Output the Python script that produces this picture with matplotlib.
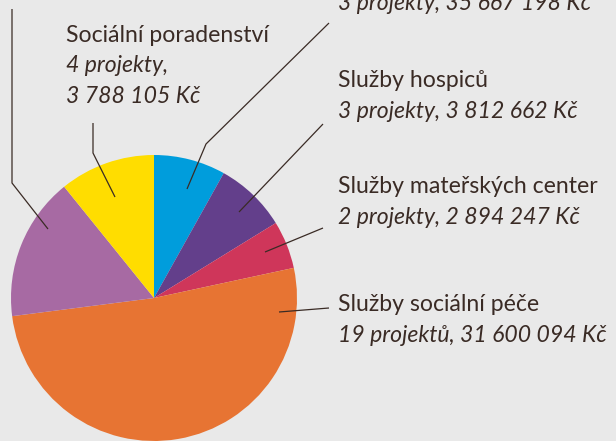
import matplotlib.pyplot as plt

# pocty projektu podle druhu sluzby (kolac je podle poctu projektu)
kategorie = ["?", "Služby hospiců", "Služby mateřských center",
             "Služby sociální péče", "?", "Sociální poradenství"]
projekty = [3, 3, 2, 19, 6, 4]
barvy = ["#009ddc", "#633f8b", "#cf365a", "#e77433", "#a76aa3", "#ffdd00"]

bg = "#e9e9e9"
ink = "#3a2b25"

fig = plt.figure(figsize=(6.16, 4.41), dpi=100, facecolor=bg)
ax = fig.add_axes([0, 0, 1, 1])
ax.set_facecolor(bg)

ax.pie(projekty, colors=barvy, startangle=-90, counterclock=True,
       center=(154, 298), radius=143, frame=True,
       wedgeprops=dict(linewidth=0))
# souradnice v pixelech obrazku, y dolu
ax.set_xlim(0, 616)
ax.set_ylim(441, 0)
ax.axis("off")

# vodici cary k popiskum
cary = [
    [(187, 189), (206, 144), (329, 23)],
    [(239, 212), (323, 124)],
    [(265, 252), (323, 228)],
    [(279, 312), (329, 308)],
    [(48, 229), (12, 183), (12, 9)],
    [(115, 197), (93, 153), (93, 123)],
]
for c in cary:
    xs, ys = zip(*c)
    ax.plot(xs, ys, color=ink, lw=0.9, solid_capstyle="butt")

font = "Lato"
fs = 16.6

def popisek(x, y, nazev, info):
    if nazev:
        ax.text(x, y, nazev, fontsize=fs, family=font, color=ink, va="baseline")
    for i, radek in enumerate(info):
        ax.text(x, y + 30.5 * (i + 1), radek, fontsize=fs, family=font,
                style="italic", color=ink, va="baseline")

popisek(338, -20, "", ["3 projekty, 35 667 198 Kč"])
popisek(338, 87, "Služby hospiců", ["3 projekty, 3 812 662 Kč"])
popisek(338, 193, "Služby mateřských center", ["2 projekty, 2 894 247 Kč"])
popisek(338, 311, "Služby sociální péče", ["19 projektů, 31 600 094 Kč"])
popisek(66, 42, "Sociální poradenství", ["4 projekty,", "3 788 105 Kč"])

fig.savefig("out.png", dpi=100, facecolor=bg)
